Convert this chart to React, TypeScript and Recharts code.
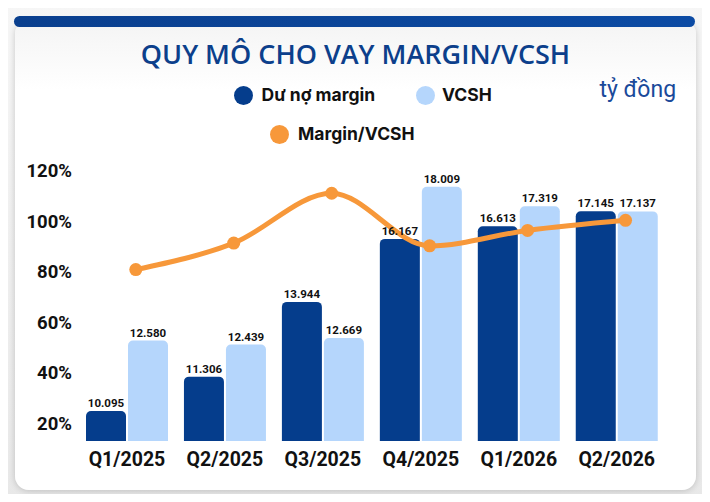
import { ComposedChart, Bar, Line, XAxis, YAxis, LabelList } from 'recharts';

const quarters = ['Q1/2025', 'Q2/2025', 'Q3/2025', 'Q4/2025', 'Q1/2026', 'Q2/2026'];
const marginDebt = [10.095, 11.306, 13.944, 16.167, 16.613, 17.145];
const equity = [12.58, 12.439, 12.669, 18.009, 17.319, 17.137];
const marginToEquity = [80.8, 91.3, 111.0, 90.2, 96.3, 100.3];
const pctTicks = [20, 40, 60, 80, 100, 120];

const DARK = '#053d8c';
const LIGHT = '#b5d6fc';
const ORANGE = '#f7983a';
const FONT = 'Roboto, sans-serif';

const chartData = quarters.map((q, i) => ({
  q,
  i,
  debt: marginDebt[i],
  equity: equity[i],
  ratio: marginToEquity[i],
}));

const fmt = (v: any) => Number(v).toFixed(3);

function LegendDot({ x, y, color }: { x: number; y: number; color: string }) {
  return (
    <div
      style={{
        position: 'absolute',
        left: x - 9.5,
        top: y - 9.5,
        width: 19,
        height: 19,
        borderRadius: '50%',
        background: color,
      }}
    />
  );
}

const legendText = {
  position: 'absolute' as const,
  fontFamily: 'Inter, sans-serif',
  fontWeight: 700,
  fontSize: 17.5,
  lineHeight: 1,
  color: '#111',
  whiteSpace: 'nowrap' as const,
};

export default function App() {
  return (
    <div
      style={{
        position: 'relative',
        width: 710,
        height: 502,
        margin: -8,
        overflow: 'hidden',
        background: 'linear-gradient(#f6f6f6, #e8e8e8)',
        fontFamily: FONT,
      }}
    >
      {/* card */}
      <div
        style={{
          position: 'absolute',
          left: 15,
          top: 20,
          width: 681,
          height: 470,
          borderRadius: 14,
          background: 'linear-gradient(#f4f4f4 0px, #ffffff 70px)',
          boxShadow: '0 1px 6px rgba(0,0,0,0.18)',
        }}
      />
      <div
        style={{
          position: 'absolute',
          left: 14,
          top: 16,
          width: 681,
          height: 11,
          borderRadius: 6,
          background: 'linear-gradient(90deg, #0a3f8e, #0c4ba4)',
        }}
      />

      <div
        style={{
          position: 'absolute',
          left: 15,
          width: 681,
          top: 40.3,
          textAlign: 'center',
          fontFamily: '"Open Sans", sans-serif',
          fontSize: 27,
          lineHeight: 1,
          fontWeight: 600,
          color: '#0c3f8b',
        }}
      >
        QUY MÔ CHO VAY MARGIN/VCSH
      </div>

      <LegendDot x={243} y={95} color={DARK} />
      <span style={{ ...legendText, left: 261.5, top: 85.9 }}>Dư nợ margin</span>
      <LegendDot x={425} y={95} color={LIGHT} />
      <span style={{ ...legendText, left: 442, top: 85.9 }}>VCSH</span>
      <LegendDot x={279} y={134} color={ORANGE} />
      <span style={{ ...legendText, left: 298, top: 124.9 }}>Margin/VCSH</span>
      <span
        style={{
          position: 'absolute',
          left: 599.5,
          top: 78,
          fontSize: 23,
          lineHeight: 1,
          color: '#1a4a9a',
          whiteSpace: 'nowrap',
        }}
      >
        tỷ đồng
      </span>

      <div style={{ position: 'absolute', left: 0, top: 0 }}>
        <ComposedChart
          width={710}
          height={502}
          data={chartData}
          margin={{ top: 170.5, right: 44.3, bottom: 30, left: 0 }}
          barGap={2}
        >
          <XAxis
            dataKey="q"
            axisLine={false}
            tickLine={false}
            tickMargin={5}
            height={31}
            interval={0}
            tick={{ fontFamily: FONT, fontSize: 19.5, fontWeight: 700, fill: '#111' }}
          />
          <XAxis
            xAxisId="line"
            dataKey="i"
            type="number"
            domain={[-0.59, 5.41]}
            allowDataOverflow
            hide
          />
          <YAxis
            yAxisId="pct"
            domain={[13, 120]}
            ticks={pctTicks}
            allowDataOverflow
            width={78}
            axisLine={false}
            tickLine={false}
            tickMargin={0}
            tickFormatter={(v) => `${v}%`}
            tick={{ fontFamily: FONT, fontSize: 18.5, fontWeight: 700, fill: '#111' }}
          />
          <YAxis yAxisId="val" orientation="right" domain={[9.035, 18.58]} allowDataOverflow hide />
          <Bar yAxisId="val" dataKey="debt" fill={DARK} barSize={40} radius={[5, 5, 0, 0]} isAnimationActive={false}>
            <LabelList
              dataKey="debt"
              position="top"
              offset={4}
              formatter={fmt}
              style={{ fontFamily: FONT, fontSize: 11.5, fontWeight: 700, fill: '#111' }}
            />
          </Bar>
          <Bar yAxisId="val" dataKey="equity" fill={LIGHT} barSize={40} radius={[5, 5, 0, 0]} isAnimationActive={false}>
            <LabelList
              dataKey="equity"
              position="top"
              offset={4}
              formatter={fmt}
              style={{ fontFamily: FONT, fontSize: 11.5, fontWeight: 700, fill: '#111' }}
            />
          </Bar>
          <Line
            xAxisId="line"
            yAxisId="pct"
            dataKey="ratio"
            type="monotone"
            stroke={ORANGE}
            strokeWidth={5}
            dot={{ r: 6.5, fill: ORANGE, stroke: ORANGE, strokeWidth: 0 }}
            activeDot={false}
            isAnimationActive={false}
          />
        </ComposedChart>
      </div>
    </div>
  );
}
